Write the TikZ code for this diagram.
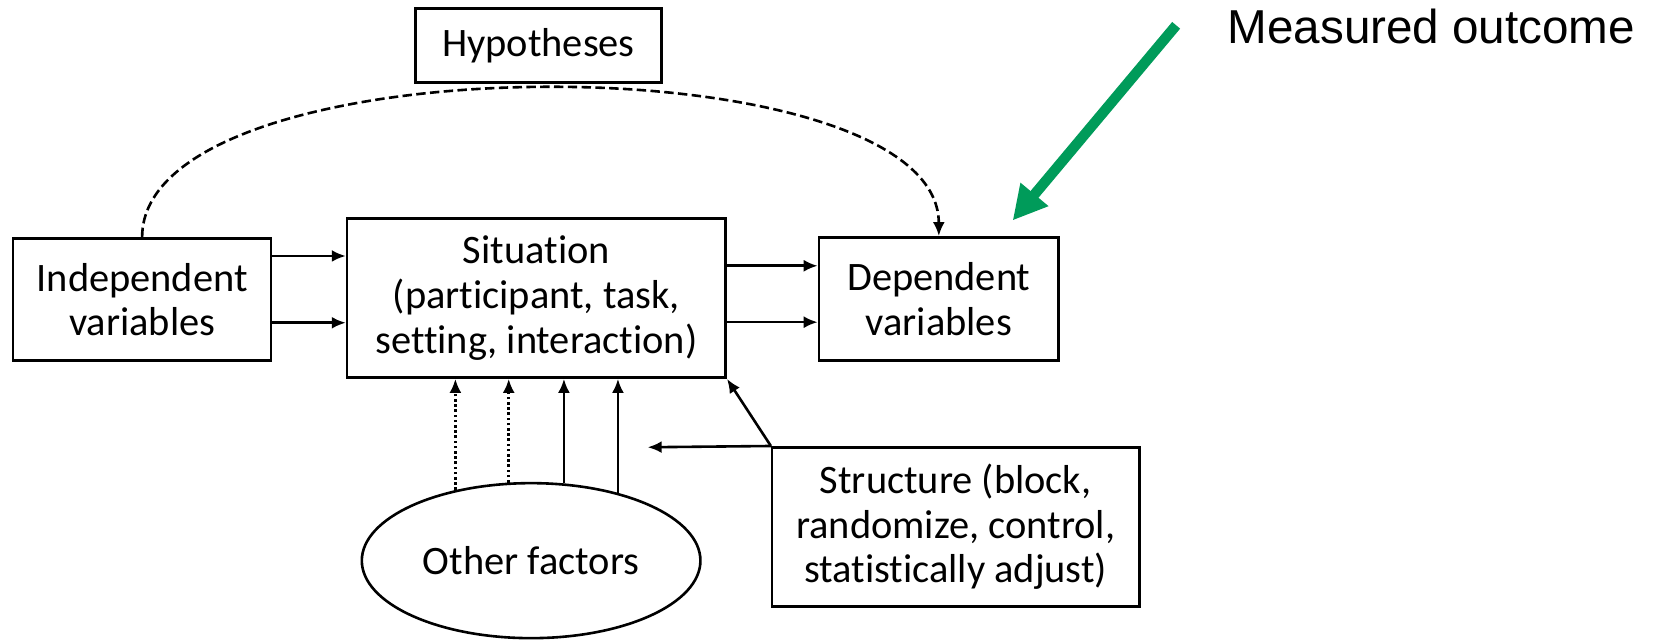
\documentclass[tikz,border=0pt]{standalone}
\usepackage{fontspec}
\setmainfont{Carlito}[Ligatures=NoCommon]
\newfontfamily\notefont{Liberation Sans}
\usetikzlibrary{shapes.geometric,arrows.meta}
\definecolor{markgreen}{RGB}{0,155,90}
\tikzset{
  box/.style={draw,align=center,font=\fontsize{20.2}{22.3}\selectfont},
  arr/.style={-{Latex[length=7pt,width=6pt]}},
  dotline/.style={dash pattern=on 1.3pt off 1.3pt},
  dashline/.style={dash pattern=on 4.7pt off 2.2pt}
}
\begin{document}
\begin{tikzpicture}[x=0.5274pt,y=-0.5274pt,line width=1.3pt]
        \useasboundingbox (0,0) rectangle (1568,608);
        \node[box,minimum width=122.9pt,minimum height=36.9pt] at (510.5,43)  (hyp)    {Hypotheses};
        \node[box,minimum width=129pt,minimum height=61.2pt]   at (134.75,284) (indep) {Independent\\variables};
        \node[box,minimum width=189.3pt,minimum height=79.6pt] at (508.5,282.5) (sit)  {Situation\\(participant, task,\\setting, interaction)};
        \node[box,minimum width=119.8pt,minimum height=61.7pt] at (890,283.5) (dep)    {Dependent\\variables};
        \node[box,ellipse,minimum width=169.3pt,minimum height=77.5pt] at (503.5,531.5) (other) {Other factors};
        \node[box,minimum width=183.5pt,minimum height=79.6pt] at (906,499.5) (struct) {Structure (block,\\randomize, control,\\statistically adjust)};
        \node[font=\notefont\fontsize{23.8}{26}\selectfont] at (1357,25.5) (meas) {Measured outcome};
        \coordinate (stip)  at (614,424);
        \coordinate (gtail) at (1115,24);
        \coordinate (ghead) at (960,209);
        \draw[arr,dashline] (indep.north) .. controls (134.75,37) and (890,37) .. (dep.north);
        \draw[arr] ([yshift=21.8pt]indep.east) -- ([yshift=21.8pt]indep.east -| sit.west);
        \draw[arr] ([yshift=-11.6pt]indep.east) -- ([yshift=-11.6pt]indep.east -| sit.west);
        \draw[arr] ([yshift=16.1pt]sit.east) -- ([yshift=16.1pt]sit.east -| dep.west);
        \draw[arr] ([yshift=-12.1pt]sit.east) -- ([yshift=-12.1pt]sit.east -| dep.west);
        \foreach \a/\s in {137/dotline,106/dotline,67/solid,38/solid}
          \draw[arr,\s] (other.\a) -- (other.\a |- sit.south);
        \draw[arr] (struct.north west) -- (sit.south east);
        \draw[arr] (struct.north west) -- (stip);
        \draw[markgreen,line width=5.2pt,-{Triangle[length=17pt,width=17pt]}] (gtail) -- (ghead);
      \end{tikzpicture}
\end{document}
